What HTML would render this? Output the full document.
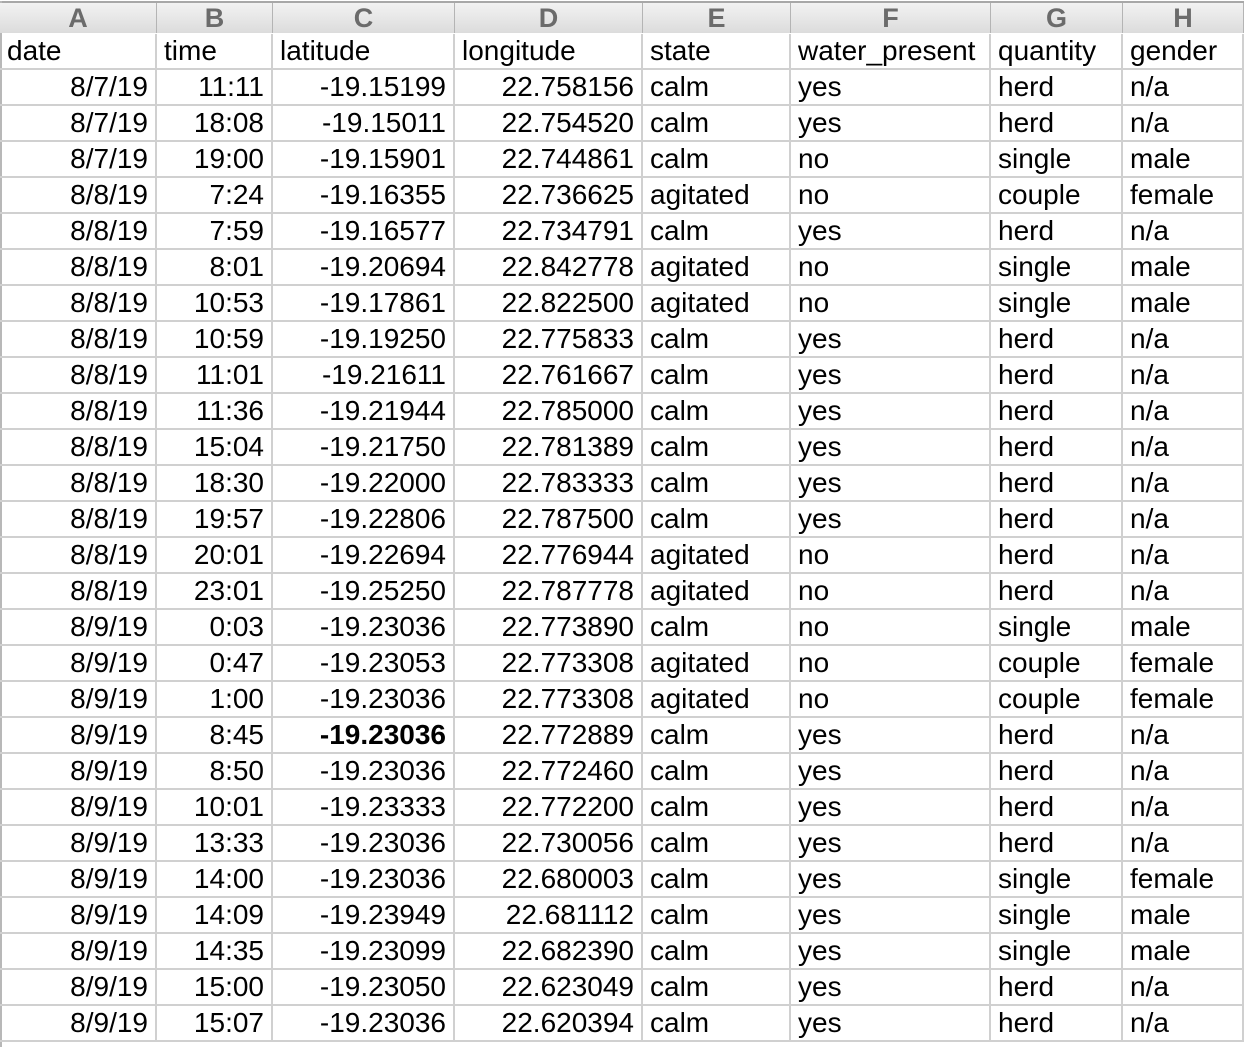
<!DOCTYPE html>
<html><head><meta charset="utf-8">
<style>
html,body{margin:0;padding:0;background:#fff;width:1244px;height:1046px;overflow:hidden;}
#sheet{position:absolute;left:0;top:0;width:1244px;height:1046px;font-family:"Liberation Sans",Arial,sans-serif;}
.hdr{position:absolute;top:3px;height:30px;background:linear-gradient(#f2f2f2,#dcdcdc);border-right:1px solid #b4b4b4;box-sizing:border-box;color:#6b6b6b;font-weight:bold;font-size:27px;text-align:center;line-height:30px;}
.cell{position:absolute;height:36px;box-sizing:border-box;border-right:2px solid #d0d0d0;border-bottom:2px solid #d0d0d0;font-size:28px;line-height:34px;color:#000;white-space:nowrap;overflow:hidden;padding:0 7px;}
.r{text-align:right;}
</style></head><body>
<div id="sheet">
<div style="position:absolute;left:0;top:1px;width:1244px;height:2px;background:#a8a8a8"></div>
<div style="position:absolute;left:0;top:1px;width:2px;height:1046px;background:#b8b8b8"></div>
</div>
<script>
var colLetters=["A","B","C","D","E","F","G","H"];
var colEdges=[0,157,273,455,643,791,991,1123,1244];
var headers=["date","time","latitude","longitude","state","water_present","quantity","gender"];
var dates=["8/7/19","8/7/19","8/7/19","8/8/19","8/8/19","8/8/19","8/8/19","8/8/19","8/8/19","8/8/19","8/8/19","8/8/19","8/8/19","8/8/19","8/8/19","8/9/19","8/9/19","8/9/19","8/9/19","8/9/19","8/9/19","8/9/19","8/9/19","8/9/19","8/9/19","8/9/19","8/9/19"];
var times=["11:11","18:08","19:00","7:24","7:59","8:01","10:53","10:59","11:01","11:36","15:04","18:30","19:57","20:01","23:01","0:03","0:47","1:00","8:45","8:50","10:01","13:33","14:00","14:09","14:35","15:00","15:07"];
var lats=["-19.15199","-19.15011","-19.15901","-19.16355","-19.16577","-19.20694","-19.17861","-19.19250","-19.21611","-19.21944","-19.21750","-19.22000","-19.22806","-19.22694","-19.25250","-19.23036","-19.23053","-19.23036","-19.23036","-19.23036","-19.23333","-19.23036","-19.23036","-19.23949","-19.23099","-19.23050","-19.23036"];
var lons=["22.758156","22.754520","22.744861","22.736625","22.734791","22.842778","22.822500","22.775833","22.761667","22.785000","22.781389","22.783333","22.787500","22.776944","22.787778","22.773890","22.773308","22.773308","22.772889","22.772460","22.772200","22.730056","22.680003","22.681112","22.682390","22.623049","22.620394"];
var states=["calm","calm","calm","agitated","calm","agitated","agitated","calm","calm","calm","calm","calm","calm","agitated","agitated","calm","agitated","agitated","calm","calm","calm","calm","calm","calm","calm","calm","calm"];
var water=["yes","yes","no","no","yes","no","no","yes","yes","yes","yes","yes","yes","no","no","no","no","no","yes","yes","yes","yes","yes","yes","yes","yes","yes"];
var qty=["herd","herd","single","couple","herd","single","single","herd","herd","herd","herd","herd","herd","herd","herd","single","couple","couple","herd","herd","herd","herd","single","single","single","herd","herd"];
var gender=["n/a","n/a","male","female","n/a","male","male","n/a","n/a","n/a","n/a","n/a","n/a","n/a","n/a","male","female","female","n/a","n/a","n/a","n/a","female","male","male","n/a","n/a"];
var colNames=["date","time","latitude","longitude","state","water-present","quantity","gender"];
var sheet=document.getElementById('sheet');
for(var c=0;c<8;c++){
  var h=document.createElement('div');
  h.className='hdr';
  h.style.left=colEdges[c]+'px';
  h.style.width=(colEdges[c+1]-colEdges[c])+'px';
  h.textContent=colLetters[c];
  
  
  sheet.appendChild(h);
}
function addCell(c,row,text,right,bold){
  var d=document.createElement('div');
  d.className='cell'+(right?' r':'');
  d.style.left=colEdges[c]+'px';
  d.style.width=(colEdges[c+1]-colEdges[c])+'px';
  d.style.top=(34+row*36)+'px';
  if(bold)d.style.fontWeight='bold';
  d.textContent=text;
  
  
  sheet.appendChild(d);
}
for(var c=0;c<8;c++)addCell(c,0,headers[c],false,false);
var cols=[dates,times,lats,lons,states,water,qty,gender];
for(var i=0;i<dates.length;i++){
  for(var c=0;c<8;c++){
    addCell(c,i+1,cols[c][i],c<4,(c==2&&i==18));
  }
}
</script>
</body></html>
